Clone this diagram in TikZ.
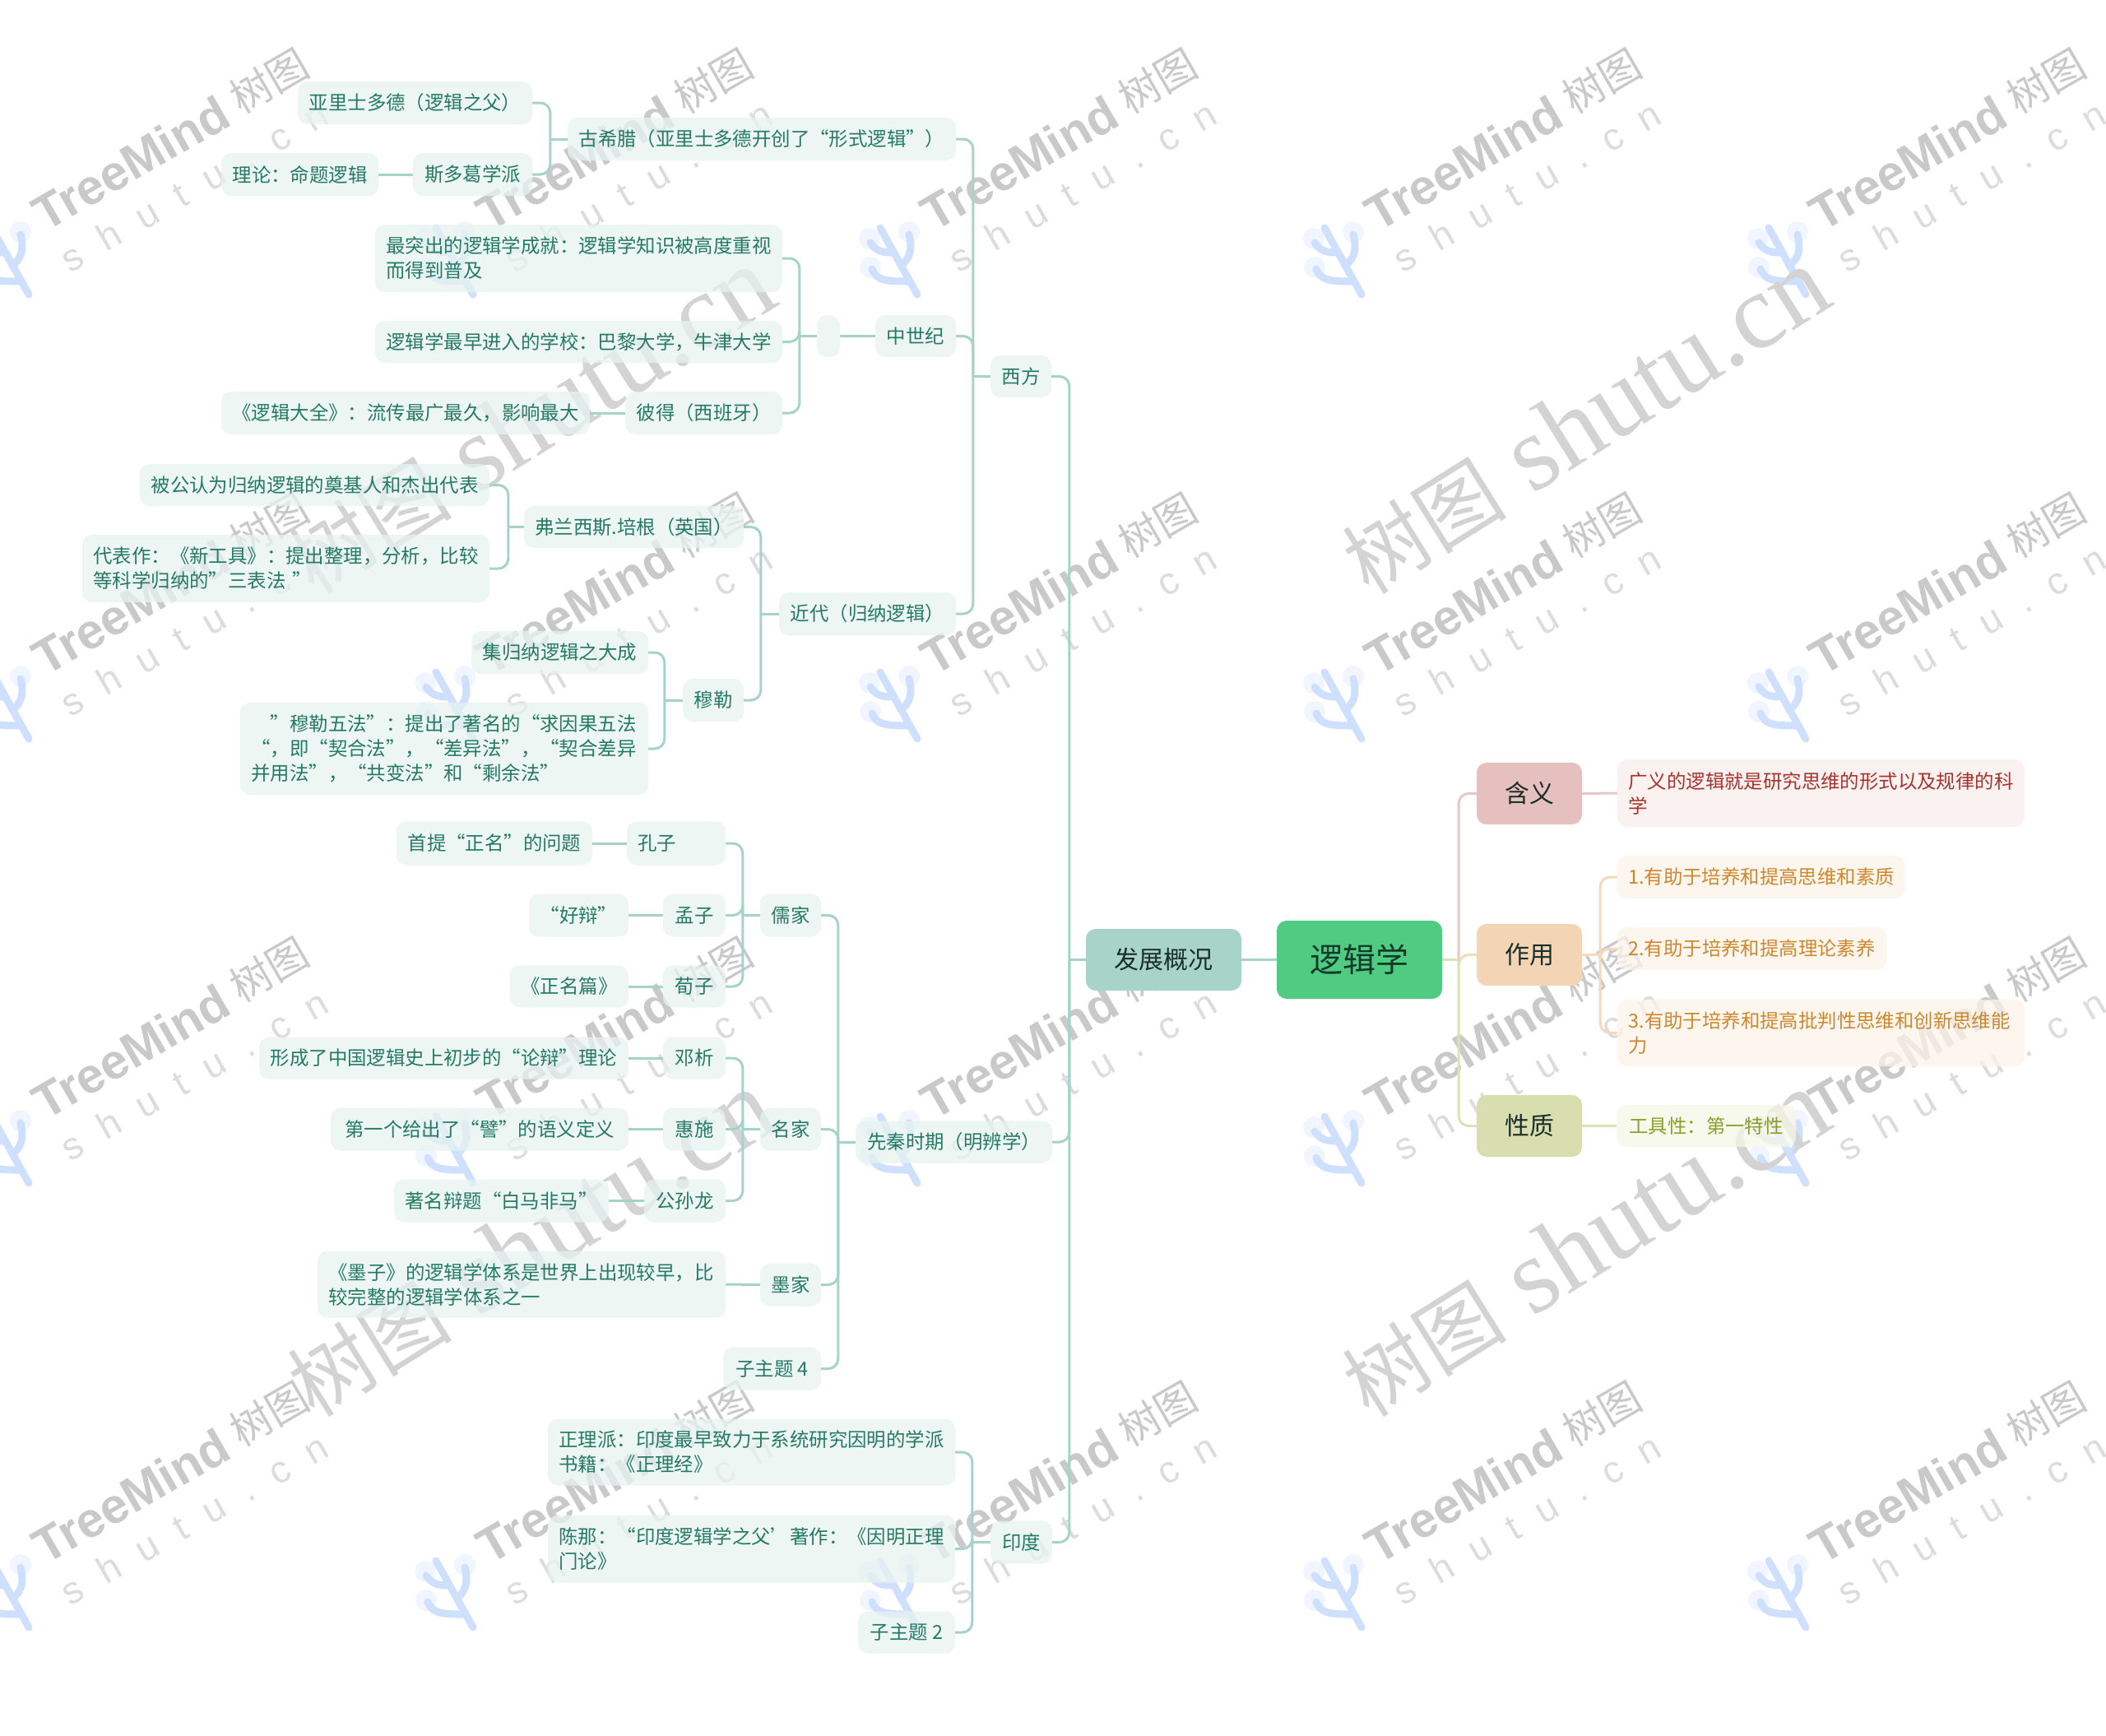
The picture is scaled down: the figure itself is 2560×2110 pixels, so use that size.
\documentclass[tikz,border=0pt]{standalone}
\usepackage{fontspec}
\setmainfont{Noto Sans CJK SC}
\newfontfamily\wmlatin{Liberation Sans}
\newfontfamily\wmspaced[LetterSpace=60]{Liberation Sans}
\newfontfamily\wmserif{Liberation Serif}
\definecolor{tealtxt}{HTML}{247A64}
\definecolor{tealfill}{HTML}{E7F3F0}
\definecolor{tealline}{HTML}{A6D3C8}
\definecolor{pinkline}{HTML}{E8C8C6}
\definecolor{orgline}{HTML}{F3D9BD}
\definecolor{grnline}{HTML}{DDE2B6}
\definecolor{wmdark}{HTML}{C9C9C9}
\definecolor{wmlight}{HTML}{DCDCDC}
\definecolor{wmbig}{HTML}{D3D3D3}
\definecolor{wmblue}{HTML}{CFE0FF}
\definecolor{wmhalo}{HTML}{F0F5FF}
\definecolor{HTMLroot}{HTML}{50CC82}
\definecolor{HTMLroottxt}{HTML}{123A2A}
\definecolor{HTMLmain}{HTML}{A8D4C8}
\definecolor{HTMLmaintxt}{HTML}{1A2E2A}
\definecolor{HTMLhanyi}{HTML}{E6BFBF}
\definecolor{HTMLzuoyong}{HTML}{F3D5B5}
\definecolor{HTMLxingzhi}{HTML}{D9DEAE}
\definecolor{HTMLdhan}{HTML}{F8EEEB}
\definecolor{HTMLdhantxt}{HTML}{A8322C}
\definecolor{HTMLdzuo}{HTML}{FCF3EA}
\definecolor{HTMLdzuotxt}{HTML}{CE872C}
\definecolor{HTMLdxing}{HTML}{F6F7E8}
\definecolor{HTMLdxingtxt}{HTML}{8C9E2C}
\tikzset{
  x=1pt,y=-1pt,
  base/.style={rounded corners=12pt,inner sep=0pt},
  sub/.style={base,fill opacity=.75,text opacity=1,fill=tealfill,text=tealtxt,font=\fontsize{23.4}{30}\selectfont},
  rootbox/.style={base,fill=HTMLroot,text=HTMLroottxt,font=\fontsize{40}{48}\selectfont},
  maint/.style={base,fill=HTMLmain,text=HTMLmaintxt,font=\fontsize{30}{36}\selectfont},
  hanyi/.style={maint,fill=HTMLhanyi},
  zuoyong/.style={maint,fill=HTMLzuoyong},
  xingzhi/.style={maint,fill=HTMLxingzhi},
  dhan/.style={sub,fill=HTMLdhan,text=HTMLdhantxt},
  dzuo/.style={sub,fill=HTMLdzuo,text=HTMLdzuotxt},
  dxing/.style={sub,fill=HTMLdxing,text=HTMLdxingtxt},
  lk/.style={line width=3pt,rounded corners=12pt,tealline},
  wmt/.style={rotate=30,inner sep=0pt},
}
% box from corner coordinates
\newcommand\bx[7]{%
  \pgfmathsetmacro\bxw{#5-#3}\pgfmathsetmacro\bxh{#6-#4}%
  \pgfmathsetmacro\bxc{(#3+#5)/2}\pgfmathsetmacro\bxd{(#4+#6)/2}%
  \node[#1,minimum width=\bxw pt,minimum height=\bxh pt] (#2) at (\bxc,\bxd) {#7};}
\newcommand\bxm[7]{%
  \pgfmathsetmacro\bxw{#5-#3}\pgfmathsetmacro\bxh{#6-#4}%
  \pgfmathsetmacro\bxc{(#3+#5)/2}\pgfmathsetmacro\bxd{(#4+#6)/2}%
  \pgfmathsetmacro\bxt{#5-#3-27}%
  \node[#1,align=left,text width=\bxt pt,minimum width=\bxw pt,minimum height=\bxh pt] (#2) at (\bxc,\bxd) {#7};}
% connector parent -> child: straight stub to the bus, then a rounded elbow
\newcommand\lnk[4][tealline]{\draw[lk,#1] (#2.west) -- ++(-#4,0) coordinate (bus); \draw[lk,#1] (bus) |- (#3.east);}
\newcommand\lnkr[4][tealline]{\draw[lk,#1] (#2.east) -- ++(#4,0) coordinate (bus); \draw[lk,#1] (bus) |- (#3.west);}
\begin{document}
\begin{tikzpicture}
\useasboundingbox (0,0) rectangle (2560,2110);
\fill[white] (0,0) rectangle (2560,2110);
\clip (0,0) rectangle (2560,2110);
% watermarks
\foreach \wx in {-60,480,1020,1560,2100}{
 \foreach \wy in {20,560,1100,1640}{
  \begin{scope}[shift={(\wx,\wy)}]
   \fill[wmhalo] (37,270) circle (13) (85,262) circle (13) (38,305) circle (13);
   \draw[wmblue,line width=9pt,line cap=round] (50,257) -- (95,338);
   \draw[wmblue,line width=9pt,line cap=round] (85,265) .. controls (90,285) and (85,295) .. (75,303);
   \draw[wmblue,line width=9pt,line cap=round] (38,275) .. controls (45,285) and (52,287) .. (65,287);
   \draw[wmblue,line width=9pt,line cap=round] (40,307) .. controls (45,320) and (55,322) .. (82,322);
   \node[wmt,text=wmdark,font=\wmlatin\bfseries\fontsize{60}{60}\selectfont] (tm\wx\wy) at (219,178) {TreeMind};
   \node[wmt,text=wmdark,font=\fontsize{50}{50}\selectfont] (sm\wx\wy) at (387,78) {树图};
   \node[wmt,text=wmlight,font=\wmspaced\fontsize{46}{46}\selectfont] (st\wx\wy) at (296,206) {shutu.cn};
  \end{scope}
 }
}
\foreach \wx in {645,1927}{
 \foreach \wy in {512,1512}{
   \node[rotate=32,inner sep=0pt,text=wmbig,font=\wmserif\fontsize{130}{130}\selectfont] (big\wx\wy) at (\wx,\wy) {{\fontspec{Noto Sans CJK SC}\fontsize{100}{100}\selectfont 树图} shutu.cn};
 }
}
% nodes
\bx{rootbox}{root}{1552}{1119}{1753}{1214}{逻辑学}
\bx{maint}{fazhan}{1320}{1129}{1509}{1204}{发展概况}
\bx{hanyi}{hanyi}{1795}{927}{1923}{1002}{含义}
\bx{zuoyong}{zuoyong}{1795}{1123}{1923}{1198}{作用}
\bx{xingzhi}{xingzhi}{1795}{1331}{1923}{1406}{性质}
\bxm{dhan}{d1}{1966}{923}{2461}{1005}{广义的逻辑就是研究思维的形式以及规律的科\\学}
\bx{dzuo}{d2}{1966}{1040}{2316}{1092}{1.有助于培养和提高思维和素质}
\bx{dzuo}{d3}{1966}{1127}{2293}{1179}{2.有助于培养和提高理论素养}
\bxm{dzuo}{d4}{1966}{1215}{2461}{1296}{3.有助于培养和提高批判性思维和创新思维能\\力}
\bx{dxing}{d5}{1965}{1343}{2183}{1394}{工具性：第一特性}
% west
\bx{sub}{xifang}{1204}{432}{1278}{483}{西方}
\bx{sub}{gxl}{690}{143}{1162}{195}{古希腊（亚里士多德开创了“形式逻辑”）}
\bx{sub}{yali}{362}{99}{647}{151}{亚里士多德（逻辑之父）}
\bx{sub}{siduo}{502}{186}{647}{238}{斯多葛学派}
\bx{sub}{lilun}{269}{186}{460}{238}{理论：命题逻辑}
\bx{sub}{zsj}{1064}{383}{1162}{434}{中世纪}
\bx{sub}{kong}{993}{383}{1021}{434}{}
\bxm{sub}{tuchu}{456}{273}{951}{355}{最突出的逻辑学成就：逻辑学知识被高度重视\\而得到普及}
\bx{sub}{zuizao}{456}{390}{951}{441}{逻辑学最早进入的学校：巴黎大学，牛津大学}
\bx{sub}{bide}{760}{476}{951}{528}{彼得（西班牙）}
\bx{sub}{daquan}{269}{476}{717}{528}{《逻辑大全》：流传最广最久，影响最大}
\bx{sub}{jindai}{947}{720}{1162}{772}{近代（归纳逻辑）}
\bx{sub}{bacon}{637}{615}{904}{666}{弗兰西斯.培根（英国）}
\bx{sub}{beigong}{170}{564}{595}{615}{被公认为归纳逻辑的奠基人和杰出代表}
\bxm{sub}{daibiao}{100}{650}{595}{732}{代表作：《新工具》：提出整理，分析，比较\\等科学归纳的”三表法 ”}
\bx{sub}{mule}{830}{825}{904}{877}{穆勒}
\bx{sub}{jigui}{573}{767}{788}{819}{集归纳逻辑之大成}
\bxm{sub}{wufa}{292}{854}{788}{966}{　”穆勒五法”：提出了著名的“求因果五法\\“，即“契合法”，“差异法”，“契合差异\\并用法”，“共变法”和“剩余法”}
\begin{scope}[yshift=1.5pt]
% pre-Qin
\bx{sub}{xianqin}{1040}{1364}{1279}{1415}{先秦时期（明辨学）}
\bx{sub}{rujia}{924}{1088}{998}{1140}{儒家}
\bxm{sub}{kongzi}{762}{1000}{882}{1053}{孔子}
\bx{sub}{shouti}{482}{1000}{720}{1053}{首提“正名”的问题}
\bx{sub}{mengzi}{806}{1088}{882}{1140}{孟子}
\bx{sub}{haobian}{643}{1088}{764}{1140}{“好辩”}
\bx{sub}{xunzi}{806}{1175}{882}{1226}{荀子}
\bx{sub}{zhengming}{620}{1175}{764}{1226}{《正名篇》}
\bx{sub}{mingjia}{924}{1348}{998}{1400}{名家}
\bx{sub}{dengxi}{806}{1262}{882}{1313}{邓析}
\bx{sub}{lunbian}{315}{1262}{764}{1313}{形成了中国逻辑史上初步的“论辩”理论}
\bx{sub}{huishi}{806}{1348}{882}{1400}{惠施}
\bx{sub}{pi}{402}{1348}{764}{1400}{第一个给出了“譬”的语义定义}
\bx{sub}{gongsun}{783}{1435}{882}{1487}{公孙龙}
\bx{sub}{baima}{479}{1435}{740}{1487}{著名辩题“白马非马”}
\bx{sub}{mojia}{924}{1537}{998}{1589}{墨家}
\bxm{sub}{mozi}{386}{1522}{882}{1603}{《墨子》的逻辑学体系是世界上出现较早，比\\较完整的逻辑学体系之一}
\bx{sub}{zi4}{879}{1639}{998}{1691}{子主题 4}
% India
\bx{sub}{yindu}{1204}{1850}{1279}{1902}{印度}
\bxm{sub}{zhengli}{666}{1726}{1161}{1807}{正理派：印度最早致力于系统研究因明的学派\\书籍：《正理经》}
\bxm{sub}{chenna}{666}{1843}{1161}{1925}{陈那：“印度逻辑学之父’著作：《因明正理\\门论》}
\bx{sub}{zi2}{1043}{1960}{1161}{2011}{子主题 2}
\end{scope}
% connectors
\draw[lk] (root.west) -- (fazhan.east);
\lnkr[pinkline]{root}{hanyi}{20}
\lnkr[orgline]{root}{zuoyong}{20}
\lnkr[grnline]{root}{xingzhi}{20}
\draw[lk,pinkline] (hanyi.east) -- (d1.west);
\lnkr[orgline]{zuoyong}{d2}{22}
\lnkr[orgline]{zuoyong}{d3}{22}
\lnkr[orgline]{zuoyong}{d4}{22}
\draw[lk,grnline] (xingzhi.east) -- (d5.west);
\lnk{fazhan}{xifang}{20}
\lnk{fazhan}{xianqin}{20}
\lnk{fazhan}{yindu}{20}
\lnk{xifang}{gxl}{21}
\lnk{xifang}{zsj}{21}
\lnk{xifang}{jindai}{21}
\lnk{gxl}{yali}{21}
\lnk{gxl}{siduo}{21}
\draw[lk] (siduo.west) -- (lilun.east);
\draw[lk] (zsj.west) -- (kong.east);
\lnk{kong}{tuchu}{21}
\lnk{kong}{zuizao}{21}
\lnk{kong}{bide}{21}
\draw[lk] (bide.west) -- (daquan.east);
\lnk{jindai}{bacon}{22}
\lnk{jindai}{mule}{22}
\lnk{bacon}{beigong}{19}
\lnk{bacon}{daibiao}{19}
\lnk{mule}{jigui}{22}
\lnk{mule}{wufa}{22}
\lnk{xianqin}{rujia}{21}
\lnk{xianqin}{mingjia}{21}
\lnk{xianqin}{mojia}{21}
\lnk{xianqin}{zi4}{21}
\lnk{rujia}{kongzi}{21}
\lnk{rujia}{mengzi}{21}
\lnk{rujia}{xunzi}{21}
\lnk{mingjia}{dengxi}{21}
\lnk{mingjia}{huishi}{21}
\lnk{mingjia}{gongsun}{21}
\draw[lk] (kongzi.west) -- (shouti.east);
\draw[lk] (mengzi.west) -- (haobian.east);
\draw[lk] (xunzi.west) -- (zhengming.east);
\draw[lk] (dengxi.west) -- (lunbian.east);
\draw[lk] (huishi.west) -- (pi.east);
\draw[lk] (gongsun.west) -- (baima.east);
\draw[lk] (mojia.west) -- (mozi.east);
\lnk{yindu}{zhengli}{22}
\lnk{yindu}{chenna}{22}
\lnk{yindu}{zi2}{22}
\end{tikzpicture}
\end{document}
